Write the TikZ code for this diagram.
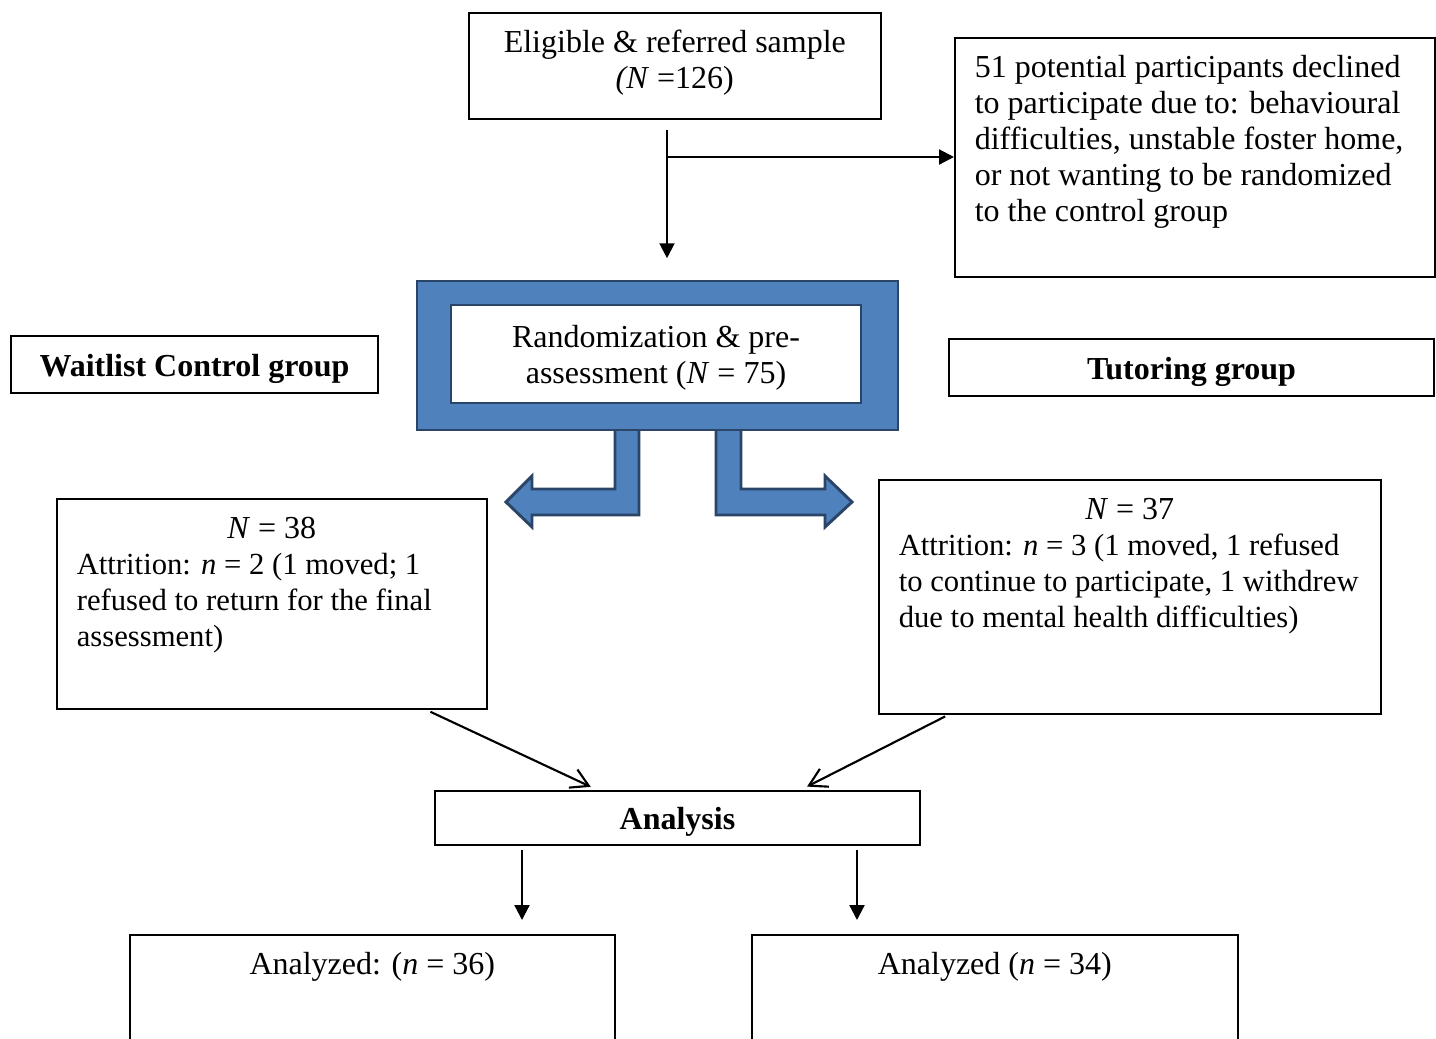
\documentclass[tikz,border=0pt]{standalone}
\usepackage{fontspec}
\setmainfont{Liberation Serif}
\usetikzlibrary{arrows.meta}
\definecolor{cBlue}{HTML}{4F81BD}
\definecolor{cNavy}{HTML}{2B4568}

\begin{document}
\begin{tikzpicture}[
  x=0.375pt, y=-0.375pt,
  every node/.style={font=\fontsize{12}{13.5}\selectfont},
  box/.style={draw, line width=0.6pt, inner sep=0pt, align=center},
  tbox/.style={draw, line width=0.6pt, anchor=north west, inner xsep=7.5pt, inner ysep=5.4pt},
  bold/.style={font=\fontsize{12}{13.5}\selectfont\bfseries, text height=9.2pt, text depth=0.3pt},
  arrow/.style={-{Triangle[length=5.6pt,width=5.6pt]}, line width=0.8pt},
  barb/.style={-{Straight Barb[length=6.5pt,width=7.5pt]}, line width=0.8pt},
  fat/.style={fill=cBlue, draw=cNavy, line width=1.1pt, line join=miter},
]

\useasboundingbox (0,0) rectangle (1436,1038);
\clip (0,0) rectangle (1436,1038);

\node[tbox] (elig) at (468,12) {\parbox[t][28.95pt][t]{139.5pt}{\centering\strut Eligible \& referred sample\\ \textit{(N} =126)}};
\node[tbox] (decl) at (954,37) {\parbox[t][78.8pt][t]{165pt}{\raggedright\strut 51 potential participants declined\\ to participate due to: behavioural\\ difficulties, unstable foster home,\\ or not wanting to be randomized\\ to the control group}};

% block arrows out of the randomization box
\draw[fat] (639,430) -- (639,515) -- (532,515) -- (532,527) -- (506,502) -- (532,476) -- (532,489) -- (615,489) -- (615,430);
\draw[fat] (716,430) -- (716,515) -- (825,515) -- (825,527) -- (852,502) -- (825,476) -- (825,489) -- (741,489) -- (741,430);

\node[fat, minimum width=180.375pt, minimum height=55.875pt, inner sep=0pt] (rand) at (657.5,355.5) {};
\node[box, fill=white, draw=cNavy, minimum width=153.75pt, minimum height=36.75pt, text depth=0pt] (randtext) at (656,354) {Randomization \& pre-\\assessment (\textit{N} = 75)};

\node[box, bold, minimum width=137.625pt, minimum height=21.375pt] (wait) at (194.5,364.5) {Waitlist Control group};
\node[box, bold, minimum width=181.875pt, minimum height=21.375pt] (tutor) at (1191.5,367.5) {Tutoring group};

\node[tbox] (n38) at (56,498) {\parbox[t][67.95pt][t]{146.25pt}{\centering\strut\textit{N} = 38\par\raggedright\fontsize{11.5}{13.5}\selectfont Attrition: \textit{n} = 2 (1 moved; 1\\ refused to return for the final\\ assessment)}};
\node[tbox] (n37) at (878,479) {\parbox[t][76.95pt][t]{173.25pt}{\centering\strut\textit{N} = 37\par\raggedright\fontsize{11.5}{13.5}\selectfont \mbox{Attrition: \textit{n} = 3 (1 moved, 1 refused}\\ \mbox{to continue to participate, 1 withdrew}\\ \mbox{due to mental health difficulties)}}};

\node[box, bold, minimum width=181.875pt, minimum height=20.25pt] (ana) at (677.5,818) {Analysis};

\node[tbox] (bl) at (129,934) {\parbox[t][40.2pt][t]{166.875pt}{\centering\strut Analyzed: (\textit{n} = 36)}};
\node[tbox] (br) at (751,934) {\parbox[t][40.2pt][t]{167.25pt}{\centering\strut Analyzed (\textit{n} = 34)}};

% connectors
\coordinate (split) at (667,157);
\coordinate (dl) at (522,0);
\coordinate (dr) at (857,0);
\draw[arrow, shorten <=3.75pt, shorten >=8pt] (elig.south -| split) -- (rand.north -| split);
\draw[arrow] (split) -- (decl.west |- split);
\draw[barb, shorten <=1.9pt, shorten >=3pt] ([xshift=57.75pt]n38.south) -- ([xshift=-29.8pt]ana.north);
\draw[barb, shorten <=1.5pt, shorten >=3pt] ([xshift=-67.9pt]n37.south) -- ([xshift=45.9pt]ana.north);
\draw[arrow, shorten <=1.5pt, shorten >=5.25pt] (ana.south -| dl) -- (bl.north -| dl);
\draw[arrow, shorten <=1.5pt, shorten >=5.25pt] (ana.south -| dr) -- (br.north -| dr);

\end{tikzpicture}
\end{document}
